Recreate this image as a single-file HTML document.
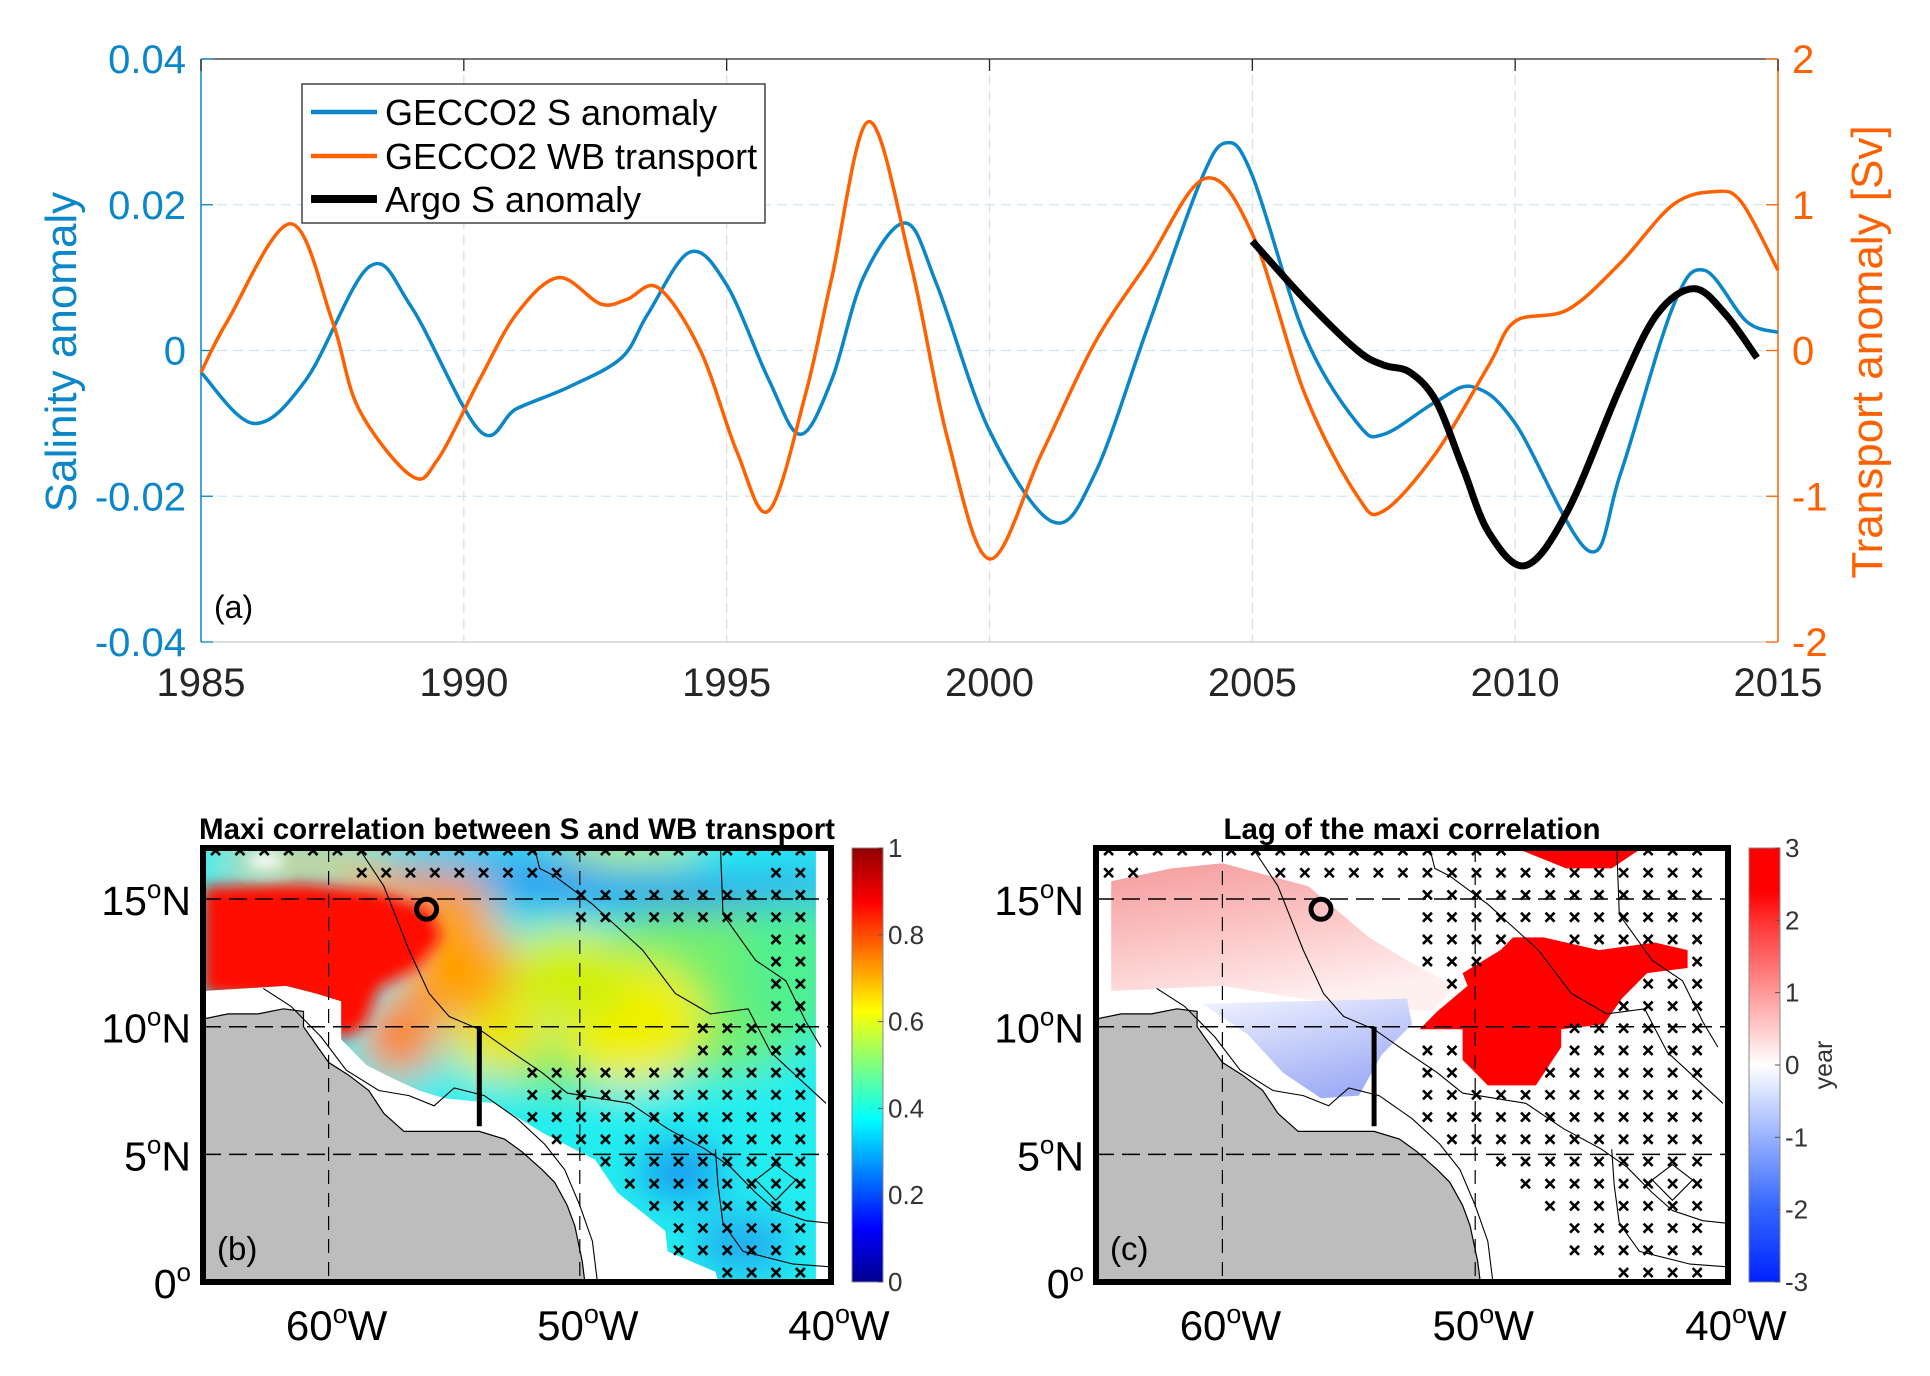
<!DOCTYPE html>
<html><head><meta charset="utf-8"><style>
html,body{margin:0;padding:0;background:#fff;}
svg{display:block;font-family:"Liberation Sans",Arial,sans-serif;}
</style></head><body>
<svg id="fig" width="1930" height="1376" viewBox="0 0 1930 1376">
<defs>
<filter id="blur1" x="-20%" y="-20%" width="140%" height="140%"><feGaussianBlur stdDeviation="20"/></filter>
<filter id="blur2" x="-20%" y="-20%" width="140%" height="140%"><feGaussianBlur stdDeviation="7"/></filter>
<linearGradient id="jet" x1="0" y1="1" x2="0" y2="0">
<stop offset="0" stop-color="#00008f"/><stop offset="0.125" stop-color="#0000ff"/><stop offset="0.375" stop-color="#00ffff"/><stop offset="0.625" stop-color="#ffff00"/><stop offset="0.875" stop-color="#ff0000"/><stop offset="1" stop-color="#900000"/>
</linearGradient>
<linearGradient id="rwb" x1="0" y1="1" x2="0" y2="0">
<stop offset="0" stop-color="#0022ff"/><stop offset="0.17" stop-color="#3366ff"/><stop offset="0.5" stop-color="#ffffff"/><stop offset="0.83" stop-color="#ff3333"/><stop offset="0.9" stop-color="#ff0000"/><stop offset="1" stop-color="#ff0000"/>
</linearGradient>
<linearGradient id="pinkg" x1="0" y1="0" x2="0.4" y2="1">
<stop offset="0" stop-color="#f59a9a"/><stop offset="0.5" stop-color="#fbc4c4"/><stop offset="1" stop-color="#fff0f0"/>
</linearGradient>
<linearGradient id="blueg" x1="0" y1="0" x2="0.5" y2="1">
<stop offset="0" stop-color="#f2f4ff"/><stop offset="1" stop-color="#a0aef5"/>
</linearGradient>
</defs>
<g id="chartA"></g>
<g id="mapB"></g>
<g id="mapC"></g>
</svg>
<script>
// ---------- Panel (a) data ----------
const sYears = [1985,1986,1987,1988.2,1989,1990.3,1991,1992,1993,1993.5,1994.3,1995,1995.8,1996.4,1997,1997.6,1998.4,1999,2000,2001.2,2002,2003,2004,2004.5,2005,2006,2007,2007.5,2008.5,2009.2,2010,2011.4,2012,2013,2013.6,2014.4,2015];
const sVals = [-0.003,-0.010,-0.004,0.0115,0.006,-0.011,-0.008,-0.005,-0.001,0.005,0.0135,0.009,-0.004,-0.0115,-0.004,0.010,0.0175,0.009,-0.011,-0.0235,-0.017,0.003,0.023,0.0285,0.024,0.002,-0.010,-0.0115,-0.007,-0.005,-0.010,-0.0275,-0.017,0.006,0.011,0.004,0.0025];
const tYears = [1985,1985.5,1986.7,1987.5,1988,1989,1989.5,1990.3,1991,1991.8,1992.6,1993.1,1993.7,1994.5,1995.2,1995.8,1996.5,1997,1997.7,1998.5,1999.2,2000,2001,2002,2003,2004.1,2005,2006,2007,2007.5,2008.5,2009.5,2010,2011,2012,2013,2013.8,2014.3,2015];
const tVals = [-0.15,0.2,0.87,0.2,-0.4,-0.86,-0.75,-0.2,0.25,0.5,0.32,0.35,0.43,0,-0.7,-1.1,-0.3,0.5,1.57,0.6,-0.6,-1.43,-0.7,0.05,0.6,1.18,0.8,-0.3,-1.0,-1.1,-0.7,-0.1,0.2,0.28,0.6,1.0,1.09,1.02,0.55];
const aYears = [2005,2006,2007,2007.5,2008,2008.5,2009,2009.5,2010.2,2011,2012,2012.7,2013.4,2014,2014.6];
const aVals = [0.015,0.007,0.0,-0.002,-0.003,-0.007,-0.016,-0.025,-0.0295,-0.022,-0.005,0.005,0.0085,0.005,-0.001];
const xTicks = [1985,1990,1995,2000,2005,2010,2015];
const sTicks = [-0.04,-0.02,0,0.02,0.04];
const sTickLabels = ["-0.04","-0.02","0","0.02","0.04"];
const tTicks = [-2,-1,0,1,2];
const tTickLabels = ["-2","-1","0","1","2"];
// ---------- Map data ----------
const cbTicksB = [0,0.2,0.4,0.6,0.8,1];
const cbLabelsB = ["0","0.2","0.4","0.6","0.8","1"];
const cbTicksC = [-3,-2,-1,0,1,2,3];
const cbLabelsC = ["-3","-2","-1","0","1","2","3"];
const latTicks = [0,5,10,15];
const lonTicks = [-60,-50,-40];

const NS = "http://www.w3.org/2000/svg";
function mk(parent, tag, attrs, text){
  const e = document.createElementNS(NS, tag);
  for (const k in attrs) e.setAttribute(k, attrs[k]);
  if (text !== undefined) e.textContent = text;
  parent.appendChild(e);
  return e;
}
function smoothPath(pts){
  let d = "M"+pts[0][0].toFixed(1)+","+pts[0][1].toFixed(1);
  for (let i=0;i<pts.length-1;i++){
    const p0=pts[Math.max(0,i-1)], p1=pts[i], p2=pts[i+1], p3=pts[Math.min(pts.length-1,i+2)];
    const c1=[p1[0]+(p2[0]-p0[0])/6, p1[1]+(p2[1]-p0[1])/6];
    const c2=[p2[0]-(p3[0]-p1[0])/6, p2[1]-(p3[1]-p1[1])/6];
    d += "C"+c1[0].toFixed(1)+","+c1[1].toFixed(1)+" "+c2[0].toFixed(1)+","+c2[1].toFixed(1)+" "+p2[0].toFixed(1)+","+p2[1].toFixed(1);
  }
  return d;
}

// ---------- Panel (a) ----------
(function(){
  const g = document.getElementById("chartA");
  const X0=201, X1=1778, Y0=59, Y1=642;
  const BLUE="#0a86c9", OR="#ff6000";
  const xs = y => X0 + (y-1985)/30*(X1-X0);
  const ys = v => Y1 - (v+0.04)/0.08*(Y1-Y0);
  const yt = v => Y1 - (v+2)/4*(Y1-Y0);
  xTicks.forEach(t=>{
    if (t>1985 && t<2015){
      const l = mk(g,"line",{x1:xs(t),x2:xs(t),y1:Y0,y2:Y1,stroke:"#dcdcdc","stroke-width":1.2,"stroke-dasharray":"10,6"});
      
      
    }
  });
  [-0.02,0,0.02].forEach(v=>{
    const l = mk(g,"line",{x1:X0,x2:X1,y1:ys(v),y2:ys(v),stroke:"#cfe7f4","stroke-width":1.2,"stroke-dasharray":"10,6"});
    
    
  });
  mk(g,"line",{x1:X0,x2:X1,y1:Y0,y2:Y0,stroke:"#262626","stroke-width":1.3});
  mk(g,"line",{x1:X0,x2:X1,y1:Y1,y2:Y1,stroke:"#bbbbbb","stroke-width":1});
  mk(g,"line",{x1:X0,x2:X0,y1:Y0,y2:Y1,stroke:BLUE,"stroke-width":1.5});
  mk(g,"line",{x1:X1,x2:X1,y1:Y0,y2:Y1,stroke:OR,"stroke-width":1.5});
  xTicks.forEach((t,i)=>{
    mk(g,"line",{x1:xs(t),x2:xs(t),y1:Y0,y2:Y0+12,stroke:"#262626","stroke-width":1.3});
    const tx = mk(g,"text",{x:xs(t),y:696,"font-size":40,fill:"#262626","text-anchor":"middle"},String(t));
    
    
  });
  sTicks.forEach((v,i)=>{
    mk(g,"line",{x1:X0,x2:X0+12,y1:ys(v),y2:ys(v),stroke:BLUE,"stroke-width":1.3});
    const tx = mk(g,"text",{x:X0-15,y:ys(v)+14,"font-size":40,fill:BLUE,"text-anchor":"end"},sTickLabels[i]);
    
    
  });
  tTicks.forEach((v,i)=>{
    mk(g,"line",{x1:X1-12,x2:X1,y1:yt(v),y2:yt(v),stroke:OR,"stroke-width":1.3});
    const tx = mk(g,"text",{x:X1+14,y:yt(v)+14,"font-size":40,fill:OR},tTickLabels[i]);
    
    
  });
  const yl = mk(g,"text",{x:0,y:0,"font-size":44,fill:BLUE,"text-anchor":"middle",transform:"translate(76,352) rotate(-90)"},"Salinity anomaly");
  
  
  const yr = mk(g,"text",{x:0,y:0,"font-size":44,fill:OR,"text-anchor":"middle",transform:"translate(1882,352) rotate(-90)"},"Transport anomaly [Sv]");
  
  
  const sp = mk(g,"path",{d:smoothPath(sYears.map((y,i)=>[xs(y),ys(sVals[i])])),fill:"none",stroke:BLUE,"stroke-width":3.5});
  
  
  const tp = mk(g,"path",{d:smoothPath(tYears.map((y,i)=>[xs(y),yt(tVals[i])])),fill:"none",stroke:OR,"stroke-width":3.5});
  
  
  const ap = mk(g,"path",{d:smoothPath(aYears.map((y,i)=>[xs(y),ys(aVals[i])])),fill:"none",stroke:"#000","stroke-width":7});
  
  
  const pa = mk(g,"text",{x:214,y:618,"font-size":32,fill:"#000"},"(a)");
  
  
  const lg = mk(g,"g",{});
  
  
  mk(lg,"rect",{x:302,y:84,width:463,height:139,fill:"#fff",stroke:"#262626","stroke-width":1.3});
  const items=[["GECCO2 S anomaly",BLUE,4.5,112],["GECCO2 WB transport",OR,4.5,156],["Argo S anomaly","#000",8,199]];
  items.forEach(it=>{
    const e = mk(lg,"g",{});
    
    
    mk(e,"line",{x1:311,x2:377,y1:it[3],y2:it[3],stroke:it[1],"stroke-width":it[2]});
    mk(e,"text",{x:385,y:it[3]+13,"font-size":36,fill:"#000"},it[0]);
  });
})();

// ---------- Maps ----------
const land = [[-65,0],[-65,10.3],[-64,10.5],[-62.8,10.5],[-61.8,10.7],[-61,10.6],[-61,10.0],[-60.5,9.3],[-60,8.6],[-59.2,8.1],[-58.4,7.5],[-57.8,6.6],[-57,5.9],[-55.5,5.9],[-54,5.9],[-53,5.6],[-52.3,5.1],[-51.5,4.4],[-51,3.9],[-50.5,3.0],[-50.2,2.2],[-49.9,0.8],[-49.8,0]];
const validB = [[-65,17],[-40.6,17],[-40.6,-0.3],[-44.4,-0.3],[-44.6,0.4],[-46.5,1.2],[-46.6,2],[-48.5,3.5],[-49.4,4.8],[-51.4,5.8],[-53.4,7.0],[-55.4,7.2],[-56.4,7.5],[-57.5,8.0],[-58.5,8.5],[-59.5,9.5],[-59.5,11],[-60.5,11.3],[-61.7,11.6],[-65,11.4]];
const redB = [[-65,15.5],[-61,15.6],[-58,15.3],[-56,14.6],[-55.5,13.5],[-56.5,12.3],[-58,11.5],[-58.6,10],[-59.5,9.5],[-61,11],[-65,11.3]];
const pinkC = [[-64.4,15.7],[-62,16.2],[-60,16.4],[-56.6,15.5],[-54.2,13.5],[-52.7,12.6],[-50.8,11.6],[-51.7,10.6],[-55.6,10.9],[-60,11.6],[-64.4,11.4]];
const blueC = [[-60.8,10.9],[-52.7,11.1],[-52.5,10.1],[-53.7,8.9],[-54.6,7.3],[-56.1,7.2],[-57.6,8.2],[-59,9.7]];
const redC = [[-47.3,13.5],[-45.1,13.0],[-42.9,13.3],[-41.6,13.0],[-41.6,12.3],[-43.2,12.1],[-44.2,11.1],[-44.9,10.1],[-46.6,9.9],[-46.6,9.2],[-47.6,7.7],[-49.5,7.7],[-50.5,8.7],[-50.5,9.9],[-52.2,9.9],[-51.5,10.6],[-50.3,11.6],[-50.5,12.1],[-49,13.0],[-48.5,13.5]];
const redTopC = [[-48.4,17],[-43.4,17],[-44.6,16.2],[-46.4,16.2]];
const contours = [
  [[-58.8,17],[-57.8,15.5],[-56.8,13],[-56,11.3],[-55.2,10.4],[-54,9.9],[-53,9.2],[-51.5,8.2],[-50.5,7.4],[-48,7.0],[-46.5,6.0],[-45,5.2],[-44,4.5],[-43,3.5],[-42.2,2.8],[-41,2.4],[-40,2.3]],
  [[-51.8,17],[-51.6,16.2],[-51,15.9],[-49.5,14.8],[-47.5,13.0],[-46.2,11.3],[-44.8,10.5],[-43.3,10.7],[-42.4,9.0],[-41.3,8.0],[-40.2,7.0]],
  [[-44.4,17],[-44.3,14.4],[-43,12.6],[-41.8,11.8],[-41,10.2],[-40.4,9.2]],
  [[-62.6,11.5],[-61.5,10.8],[-60.3,9.6],[-59.3,8.3],[-58,7.5],[-56.8,7.3],[-55.8,6.9],[-55,7.6],[-53.8,7.3],[-52.5,6.4],[-51.4,5.4],[-50.6,4.4],[-50,3],[-49.5,1.6],[-49.3,0]],
  [[-44.6,5.2],[-44.5,3.8],[-44.3,2.3],[-43.5,1.2],[-41.5,0.7],[-40.1,0.6]],
  [[-43,4],[-42.2,4.6],[-41.4,4],[-42.2,3.2],[-43,4]]
];
function inPoly(pt, poly){
  let c=false;
  for (let i=0,j=poly.length-1;i<poly.length;j=i++){
    const xi=poly[i][0], yi=poly[i][1], xj=poly[j][0], yj=poly[j][1];
    if (((yi>pt[1])!=(yj>pt[1])) && (pt[0] < (xj-xi)*(pt[1]-yi)/(yj-yi)+xi)) c=!c;
  }
  return c;
}

function drawMap(gid, x0, x1, y0, y1, kind){
  const g = document.getElementById(gid);
  const px = lon => x0 + (lon+65)/25*(x1-x0);
  const py = lat => y1 - lat/17*(y1-y0);
  const pts = poly => poly.map(p=>px(p[0]).toFixed(1)+","+py(p[1]).toFixed(1)).join(" ");
  const clipId = gid+"clip";
  const cp = mk(g,"clipPath",{id:clipId});
  mk(cp,"rect",{x:x0,y:y0,width:x1-x0,height:y1-y0});
  const body = mk(g,"g",{"clip-path":"url(#"+clipId+")"});
  mk(body,"rect",{x:x0,y:y0,width:x1-x0,height:y1-y0,fill:"#fff"});
  if (kind==="b"){
    const vcid = gid+"valid";
    const vc = mk(g,"clipPath",{id:vcid});
    mk(vc,"polygon",{points:pts(validB)});
    const field = mk(body,"g",{"clip-path":"url(#"+vcid+")"});
    
    
    const blobs = mk(field,"g",{filter:"url(#blur1)"});
    mk(blobs,"rect",{x:x0-100,y:y0-100,width:x1-x0+200,height:y1-y0+200,fill:"#22eef0"});
    const E = (lon,lat,rx,ry,col)=>mk(blobs,"ellipse",{cx:px(lon),cy:py(lat),rx:rx/25*(x1-x0),ry:ry/17*(y1-y0),fill:col});
    E(-45,11.5,5,3.5,"#70ee70"); E(-41.5,12.5,2,3.5,"#50f090");
    E(-51,8.4,2,1.0,"#60ee60");
    E(-48,10.2,3,2.5,"#f0f000"); E(-50.5,12,2.5,2,"#d0f010"); E(-53.3,9.6,2,1.6,"#e8e800");
    E(-47,15.3,8,0.7,"#2090f0"); E(-53.5,16.4,4.5,0.6,"#40a8f0"); E(-41.5,15.6,2,0.8,"#30b0f0");
    E(-48,17.1,3,0.6,"#c8f020");
    E(-61,16.4,3.5,0.6,"#f0c000");
    E(-55,12.5,2.3,2.3,"#ffa000"); E(-57.2,9.6,1.5,1.6,"#ff8000"); E(-56.5,15.2,3,0.8,"#ff9800");
    E(-46,4.3,1.8,1.2,"#1a98f0"); E(-43.5,1.5,2,1.2,"#20a8f0");
    const red = mk(field,"g",{filter:"url(#blur2)"});
    mk(red,"polygon",{points:pts(redB),fill:"#ff1000"});
    mk(red,"ellipse",{cx:px(-62.5),cy:py(16.5),rx:18,ry:8,fill:"#fff"});
  } else {
    const f = mk(body,"g",{});
    
    
    const pk = mk(f,"polygon",{points:pts(pinkC),fill:"url(#pinkg)"});
    
    
    const bl = mk(f,"polygon",{points:pts(blueC),fill:"url(#blueg)"});
    
    
    const rd = mk(f,"polygon",{points:pts(redC),fill:"#ff0000"});
    
    
    mk(f,"polygon",{points:pts(redTopC),fill:"#ff0000"});
  }
  const ld = mk(body,"polygon",{points:pts(land),fill:"#bdbdbd",stroke:"#000","stroke-width":1.2});
  
  
  contours.forEach(c=>{
    const p = mk(body,"polyline",{points:pts(c),fill:"none",stroke:"#000","stroke-width":1.1});
    
    
  });
  const mg = mk(body,"g",{stroke:"#000","stroke-width":2.6});
  
  
  for (let lon=-64.5; lon<=-40.3; lon+=0.97){
    for (let lat=16.9; lat>=0.2; lat-=0.87){
      if (!inPoly([lon,lat],validB) && !(kind==="c" && lon>-40.9)) continue;
      let show;
      if (kind==="b"){
        show = (lat>16.3) || (lat>15.5 && lon>-59 && lon<-50) || (lon>-52 && lat<8.6) || (lon>-45.5 && lat<10.5) || (lon>-43 && lat<16.5) || (lon>-50 && lat>13.5 && lat<16) || (lon>-48.5 && lat<7);
        if (lon<-52 && lat<15.5) show=false;
      } else {
        show = !inPoly([lon,lat],pinkC) && !inPoly([lon,lat],blueC) && !inPoly([lon,lat],redC) && !inPoly([lon,lat],redTopC) && (lon>-53.5 || lat>16);
        if (lon<-52.5 && lat<15.5) show=false;
      }
      if (!show) continue;
      const cx=px(lon), cy=py(lat), s=4.5;
      mk(mg,"path",{d:"M"+(cx-s)+","+(cy-s)+"L"+(cx+s)+","+(cy+s)+"M"+(cx+s)+","+(cy-s)+"L"+(cx-s)+","+(cy+s)});
    }
  }
  [-60,-50].forEach(l=>{
    const gl = mk(body,"line",{x1:px(l),x2:px(l),y1:y0,y2:y1,stroke:"#000","stroke-width":1.2,"stroke-dasharray":"14,9"});
    
    
  });
  [5,10,15].forEach(l=>{
    const gl = mk(body,"line",{x1:x0,x2:x1,y1:py(l),y2:py(l),stroke:"#000","stroke-width":1.5,"stroke-dasharray":"18,8"});
    
    
  });
  const bar = mk(g,"line",{x1:px(-54),x2:px(-54),y1:py(10),y2:py(6.1),stroke:"#000","stroke-width":5});
  
  
  const cir = mk(g,"circle",{cx:px(-56.1),cy:py(14.6),r:10,fill:"none",stroke:"#000","stroke-width":5});
  
  
  mk(g,"rect",{x:x0,y:y0,width:x1-x0,height:y1-y0,fill:"none",stroke:"#000","stroke-width":6});
  latTicks.forEach(l=>{
    const t = mk(g,"text",{x:x0-12,y:py(l)+16,"font-size":41,fill:"#000","text-anchor":"end"});
    
    
    mk(t,"tspan",{},String(l));
    mk(t,"tspan",{"font-size":26,dy:-17},"o");
    if (l>0) mk(t,"tspan",{dy:17},"N");
  });
  lonTicks.forEach(l=>{
    const t = mk(g,"text",{x:px(l)+8,y:y1+58,"font-size":42,fill:"#000","text-anchor":"middle"});
    
    
    mk(t,"tspan",{},String(-l));
    mk(t,"tspan",{"font-size":27,dy:-17},"o");
    mk(t,"tspan",{dy:17},"W");
  });
  const pl = mk(g,"text",{x:x0+14,y:y1-22,"font-size":33,fill:"#000"},kind==="b"?"(b)":"(c)");
  
  
  const title = kind==="b" ? "Maxi correlation between S and WB transport" : "Lag of the maxi correlation";
  const tt = mk(g,"text",{x:(x0+x1)/2,y:y0-9,"font-size":29.5,"font-weight":"bold",fill:"#000","text-anchor":"middle"},title);
  
  
  const cbx = x1+21, cbw = 31;
  const cb = mk(g,"rect",{x:cbx,y:y0,width:cbw,height:y1-y0,fill:kind==="b"?"url(#jet)":"url(#rwb)",stroke:"#888","stroke-width":1});
  
  
  const ticks = kind==="b"?cbTicksB:cbTicksC, labels = kind==="b"?cbLabelsB:cbLabelsC;
  const lo = ticks[0], hi = ticks[ticks.length-1];
  ticks.forEach((v,i)=>{
    const y = y1 - (v-lo)/(hi-lo)*(y1-y0);
    mk(g,"line",{x1:cbx+cbw-5,x2:cbx+cbw,y1:y,y2:y,stroke:"#555","stroke-width":1});
    const t = mk(g,"text",{x:cbx+cbw+5,y:y+9,"font-size":26,fill:"#333"},labels[i]);
    
    
  });
  if (kind==="c"){
    const yl = mk(g,"text",{x:0,y:0,"font-size":25,fill:"#333","text-anchor":"middle",transform:"translate("+(cbx+cbw+52)+","+((y0+y1)/2)+") rotate(-90)"},"year");
    
    
  }
}
drawMap("mapB",203,831,848,1282,"b");
drawMap("mapC",1096,1728,848,1282,"c");
</script>
</body></html>
